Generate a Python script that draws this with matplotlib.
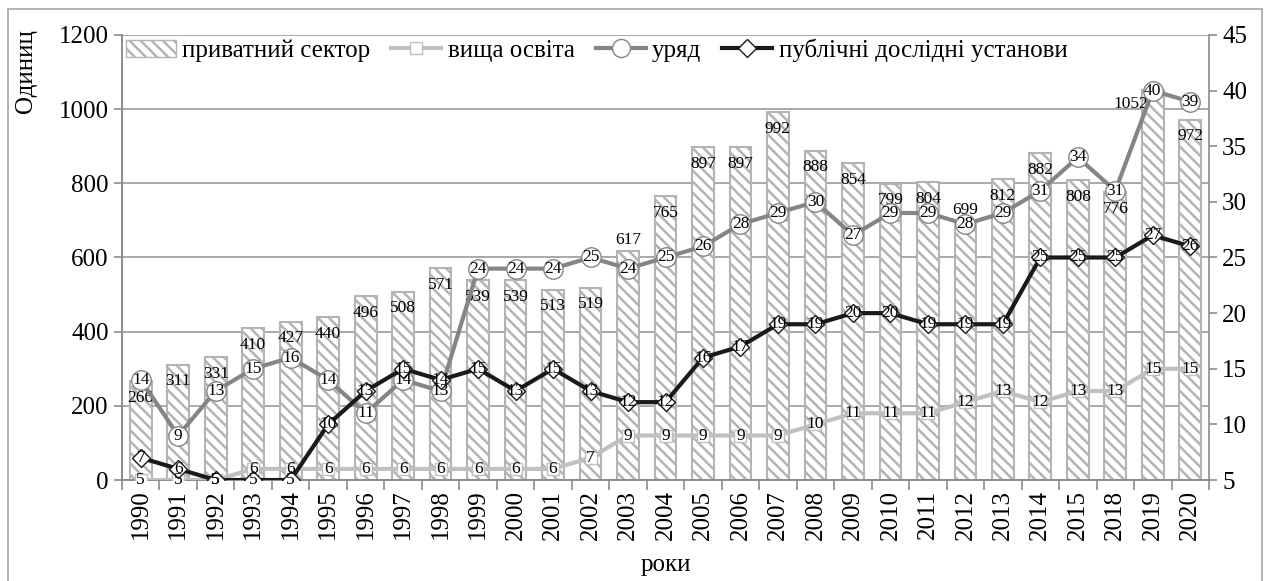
import matplotlib
matplotlib.use("Agg")
import matplotlib.pyplot as plt
from matplotlib.lines import Line2D
from matplotlib.patches import Patch, Rectangle
import numpy as np

plt.rcParams['font.family'] = ['Liberation Serif', 'DejaVu Serif']
plt.rcParams['hatch.linewidth'] = 1.8

# ---- дані ----
roky = ["1990", "1991", "1992", "1993", "1994", "1995", "1996", "1997", "1998", "1999",
        "2000", "2001", "2002", "2003", "2004", "2005", "2006", "2007", "2008", "2009",
        "2010", "2011", "2012", "2013", "2014", "2015", "2018", "2019", "2020"]
pryvatnyi = [266, 311, 331, 410, 427, 440, 496, 508, 571, 539,
             539, 513, 519, 617, 765, 897, 897, 992, 888, 854,
             799, 804, 699, 812, 882, 808, 776, 1052, 972]
vyshcha = [5, 5, 5, 6, 6, 6, 6, 6, 6, 6,
           6, 6, 7, 9, 9, 9, 9, 9, 10, 11,
           11, 11, 12, 13, 12, 13, 13, 15, 15]
uriad = [14, 9, 13, 15, 16, 14, 11, 14, 13, 24,
         24, 24, 25, 24, 25, 26, 28, 29, 30, 27,
         29, 29, 28, 29, 31, 34, 31, 40, 39]
publichni = [7, 6, 5, 5, 5, 10, 13, 15, 14, 15,
             13, 15, 13, 12, 12, 16, 17, 19, 19, 20,
             20, 19, 19, 19, 25, 25, 25, 27, 26]

x = np.arange(len(roky))

fig = plt.figure(figsize=(12.72, 5.81), dpi=100)
ax = fig.add_axes([0.0959, 0.1738, 0.8546, 0.7660])
ax2 = ax.twinx()

# рамка навколо рисунка
fig.patches.append(Rectangle((8 / 1272, -0.05), 1254 / 1272, 1.05 - 9 / 581,
                             transform=fig.transFigure, fill=False,
                             edgecolor="#a6a6a6", linewidth=1.2))

# стовпчики
bars = ax.bar(x, pryvatnyi, width=0.58, color="white", edgecolor="#b4b4b4",
              hatch="\\\\\\", linewidth=1.5, zorder=2)
for i, v in enumerate(pryvatnyi):
    dx, dy = 0, -12
    if roky[i] in ("2003", "2012"):
        dy = 8
    if roky[i] == "2019":
        dx, dy = -16, -10
    ax.annotate(str(v), (x[i], v), xytext=(dx, dy), textcoords="offset points",
                ha="center", va="center", fontsize=12.5, zorder=3)

ax.set_ylim(0, 1200)
ax.set_yticks(range(0, 1201, 200))
ax.set_xlim(-0.5, len(roky) - 0.5)
ax.set_axisbelow(True)
ax.yaxis.grid(True, color="#9a9a9a", linewidth=1.2)

# лінії
ax2.plot(x, vyshcha, color="#c0c0c0", lw=3, marker="s", ms=9,
         mfc="white", mec="#c0c0c0", mew=1, zorder=3)
ax2.plot(x, uriad, color="#858585", lw=3, marker="o", ms=14,
         mfc="white", mec="#858585", mew=1, zorder=4)
ax2.plot(x, publichni, color="#1a1a1a", lw=3, marker="D", ms=9,
         mfc="white", mec="#1a1a1a", mew=1, zorder=5)
for ser, z in ((vyshcha, 6), (uriad, 7), (publichni, 8)):
    for i, v in enumerate(ser):
        ax2.text(x[i], v, str(v), ha="center", va="center", fontsize=12.5, zorder=z)

ax2.set_ylim(5, 45)
ax2.set_yticks(range(5, 46, 5))

# вісі
for a in (ax, ax2):
    for s in a.spines.values():
        s.set_color("#8c8c8c")
        s.set_linewidth(1.2)
    a.spines["top"].set_visible(False)
    a.tick_params(axis="y", labelsize=18, color="#8c8c8c", length=6, width=1.2)
ax.spines["right"].set_visible(False)

ax.set_xticks(x)
ax.set_xticklabels(roky, rotation=90, fontsize=18)
ax.tick_params(axis="x", which="major", length=0, pad=7)
ax.set_xticks(np.arange(-0.5, len(roky), 1), minor=True)
ax.tick_params(axis="x", which="minor", length=7, color="#8c8c8c", width=1.2)

ax.set_ylabel("Одиниц", fontsize=18)
ax.yaxis.set_label_coords(-0.078, 0.92)
ax.set_xlabel("роки", fontsize=18, labelpad=10)

# легенда
handles = [
    Patch(facecolor="white", edgecolor="#b4b4b4", hatch="\\\\\\"),
    Line2D([], [], color="#c0c0c0", lw=3, marker="s", ms=9, mfc="white", mec="#c0c0c0"),
    Line2D([], [], color="#858585", lw=3, marker="o", ms=13, mfc="white", mec="#858585"),
    Line2D([], [], color="#1a1a1a", lw=3, marker="D", ms=9, mfc="white", mec="#1a1a1a"),
]
labels = ["приватний сектор", "вища освіта", "уряд", "публічні дослідні установи"]
leg = ax2.legend(handles, labels, loc="upper left", bbox_to_anchor=(0.0, 1.0),
                 ncol=4, frameon=False, fontsize=18, handlelength=2.0,
                 columnspacing=0.85, handletextpad=0.25, borderaxespad=0.05,
                 borderpad=0.1)
leg.set_zorder(10)

fig.savefig("out.png", dpi=100)
